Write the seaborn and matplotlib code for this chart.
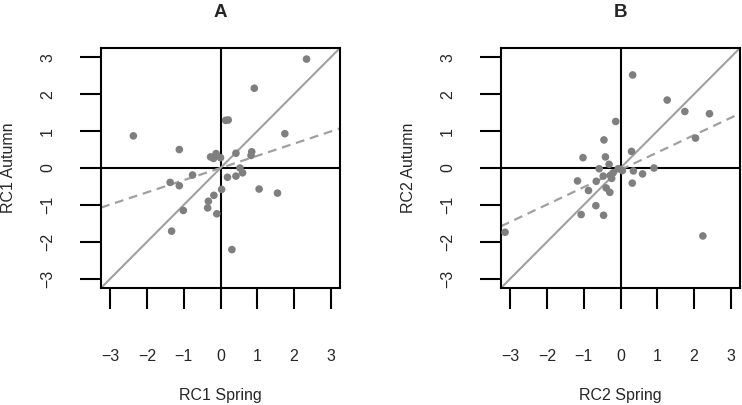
#!/usr/bin/env python3
#
# Spring vs autumn component scores (RC1, RC2)
#
import numpy as np
import matplotlib
matplotlib.use('Agg')
import matplotlib.pyplot as plt
import seaborn as sns
import pandas as pd

# RC1 scores
rc1_spring = [2.34, 0.92, 0.14, 0.21, -2.37, 1.75, -1.12, 0.42, 0.85, 0.83,
              -0.27, -0.12, 0.00, -0.19, 0.53, 0.60, 0.42, 0.19, -0.76,
              -1.37, -1.12, 0.03, -0.18, -0.33, -0.35, -1.01, -0.10, 1.05,
              1.55, -1.33, 0.31]
rc1_autumn = [2.95, 2.16, 1.29, 1.30, 0.87, 0.93, 0.50, 0.40, 0.44, 0.34,
              0.30, 0.39, 0.28, 0.26, 0.00, -0.13, -0.22, -0.25, -0.19,
              -0.39, -0.48, -0.58, -0.74, -0.90, -1.08, -1.15, -1.24, -0.57,
              -0.68, -1.71, -2.21]

# RC2 scores
rc2_spring = [0.33, 1.27, 1.75, 2.42, 2.04, -0.13, -0.45, 0.30, -1.02, -0.41,
              -0.31, -0.58, -0.06, 0.05, 0.35, 0.60, 0.91, 0.32, -1.17,
              -0.66, -0.47, -0.24, -0.39, -0.29, -0.20, -0.28, -0.87, -0.67,
              -1.07, -0.46, -3.14, 2.24]
rc2_autumn = [2.52, 1.84, 1.53, 1.47, 0.81, 1.26, 0.76, 0.45, 0.28, 0.30,
              0.10, -0.02, -0.02, -0.07, -0.08, -0.16, 0.00, -0.41, -0.35,
              -0.36, -0.22, -0.28, -0.54, -0.66, -0.13, -0.20, -0.61, -1.02,
              -1.26, -1.28, -1.74, -1.84]

# Fitted lines (intercept, slope)
fit_rc1 = (0.0, 0.33)
fit_rc2 = (-0.05, 0.47)

ticks = [-3, -2, -1, 0, 1, 2, 3]
lim = 3.25

sns.set_style('ticks')
plt.rcParams['font.family'] = ['Liberation Sans', 'DejaVu Sans']
plt.rcParams['font.size'] = 11.5

point_color = '#7f7f7f'
line_color = '#a0a0a0'

fig = plt.figure(figsize=(7.42, 4.05), dpi=100)

panels = [
    ('A', rc1_spring, rc1_autumn, fit_rc1, 'RC1 Spring', 'RC1 Autumn', 101),
    ('B', rc2_spring, rc2_autumn, fit_rc2, 'RC2 Spring', 'RC2 Autumn', 501),
]

for title, xs, ys, fit, xlabel, ylabel, left_px in panels:
    ax = fig.add_axes([left_px / 742, 1 - 288 / 405, 239 / 742, 240 / 405])

    ax.axhline(0, color='black', lw=1.5, zorder=1)
    ax.axvline(0, color='black', lw=1.5, zorder=1)
    ax.axline((0, 0), slope=1, color=line_color, lw=1.5, zorder=2)
    ax.axline((0, fit[0]), slope=fit[1], color=line_color, lw=1.6,
              dashes=(4, 2.6), zorder=2)

    df = pd.DataFrame({'spring': xs, 'autumn': ys})
    sns.scatterplot(data=df, x='spring', y='autumn', ax=ax, color=point_color,
                    s=30, edgecolor='none', zorder=3)

    ax.set_xlim(-lim, lim)
    ax.set_ylim(-lim, lim)
    ax.set_xticks(ticks)
    ax.set_yticks(ticks)
    for sp in ax.spines.values():
        sp.set_visible(True)
        sp.set_linewidth(1.5)
        sp.set_color('black')

    ax.tick_params(axis='both', direction='out', length=15, width=1.5,
                   color='black', labelsize=11.5)
    ax.tick_params(axis='x', pad=29)
    ax.tick_params(axis='y', pad=18, labelrotation=90)
    for lab in ax.get_yticklabels():
        lab.set_verticalalignment('center')

    ax.set_xlabel(xlabel, fontsize=11.5)
    ax.set_ylabel(ylabel, fontsize=11.5)
    ax.xaxis.set_label_coords(0.5, -0.415)
    ax.yaxis.set_label_coords(-0.355, 0.5)
    ax.set_title(title, fontweight='bold', fontsize=13.5, pad=22)

plt.savefig('out.png', dpi=100)
